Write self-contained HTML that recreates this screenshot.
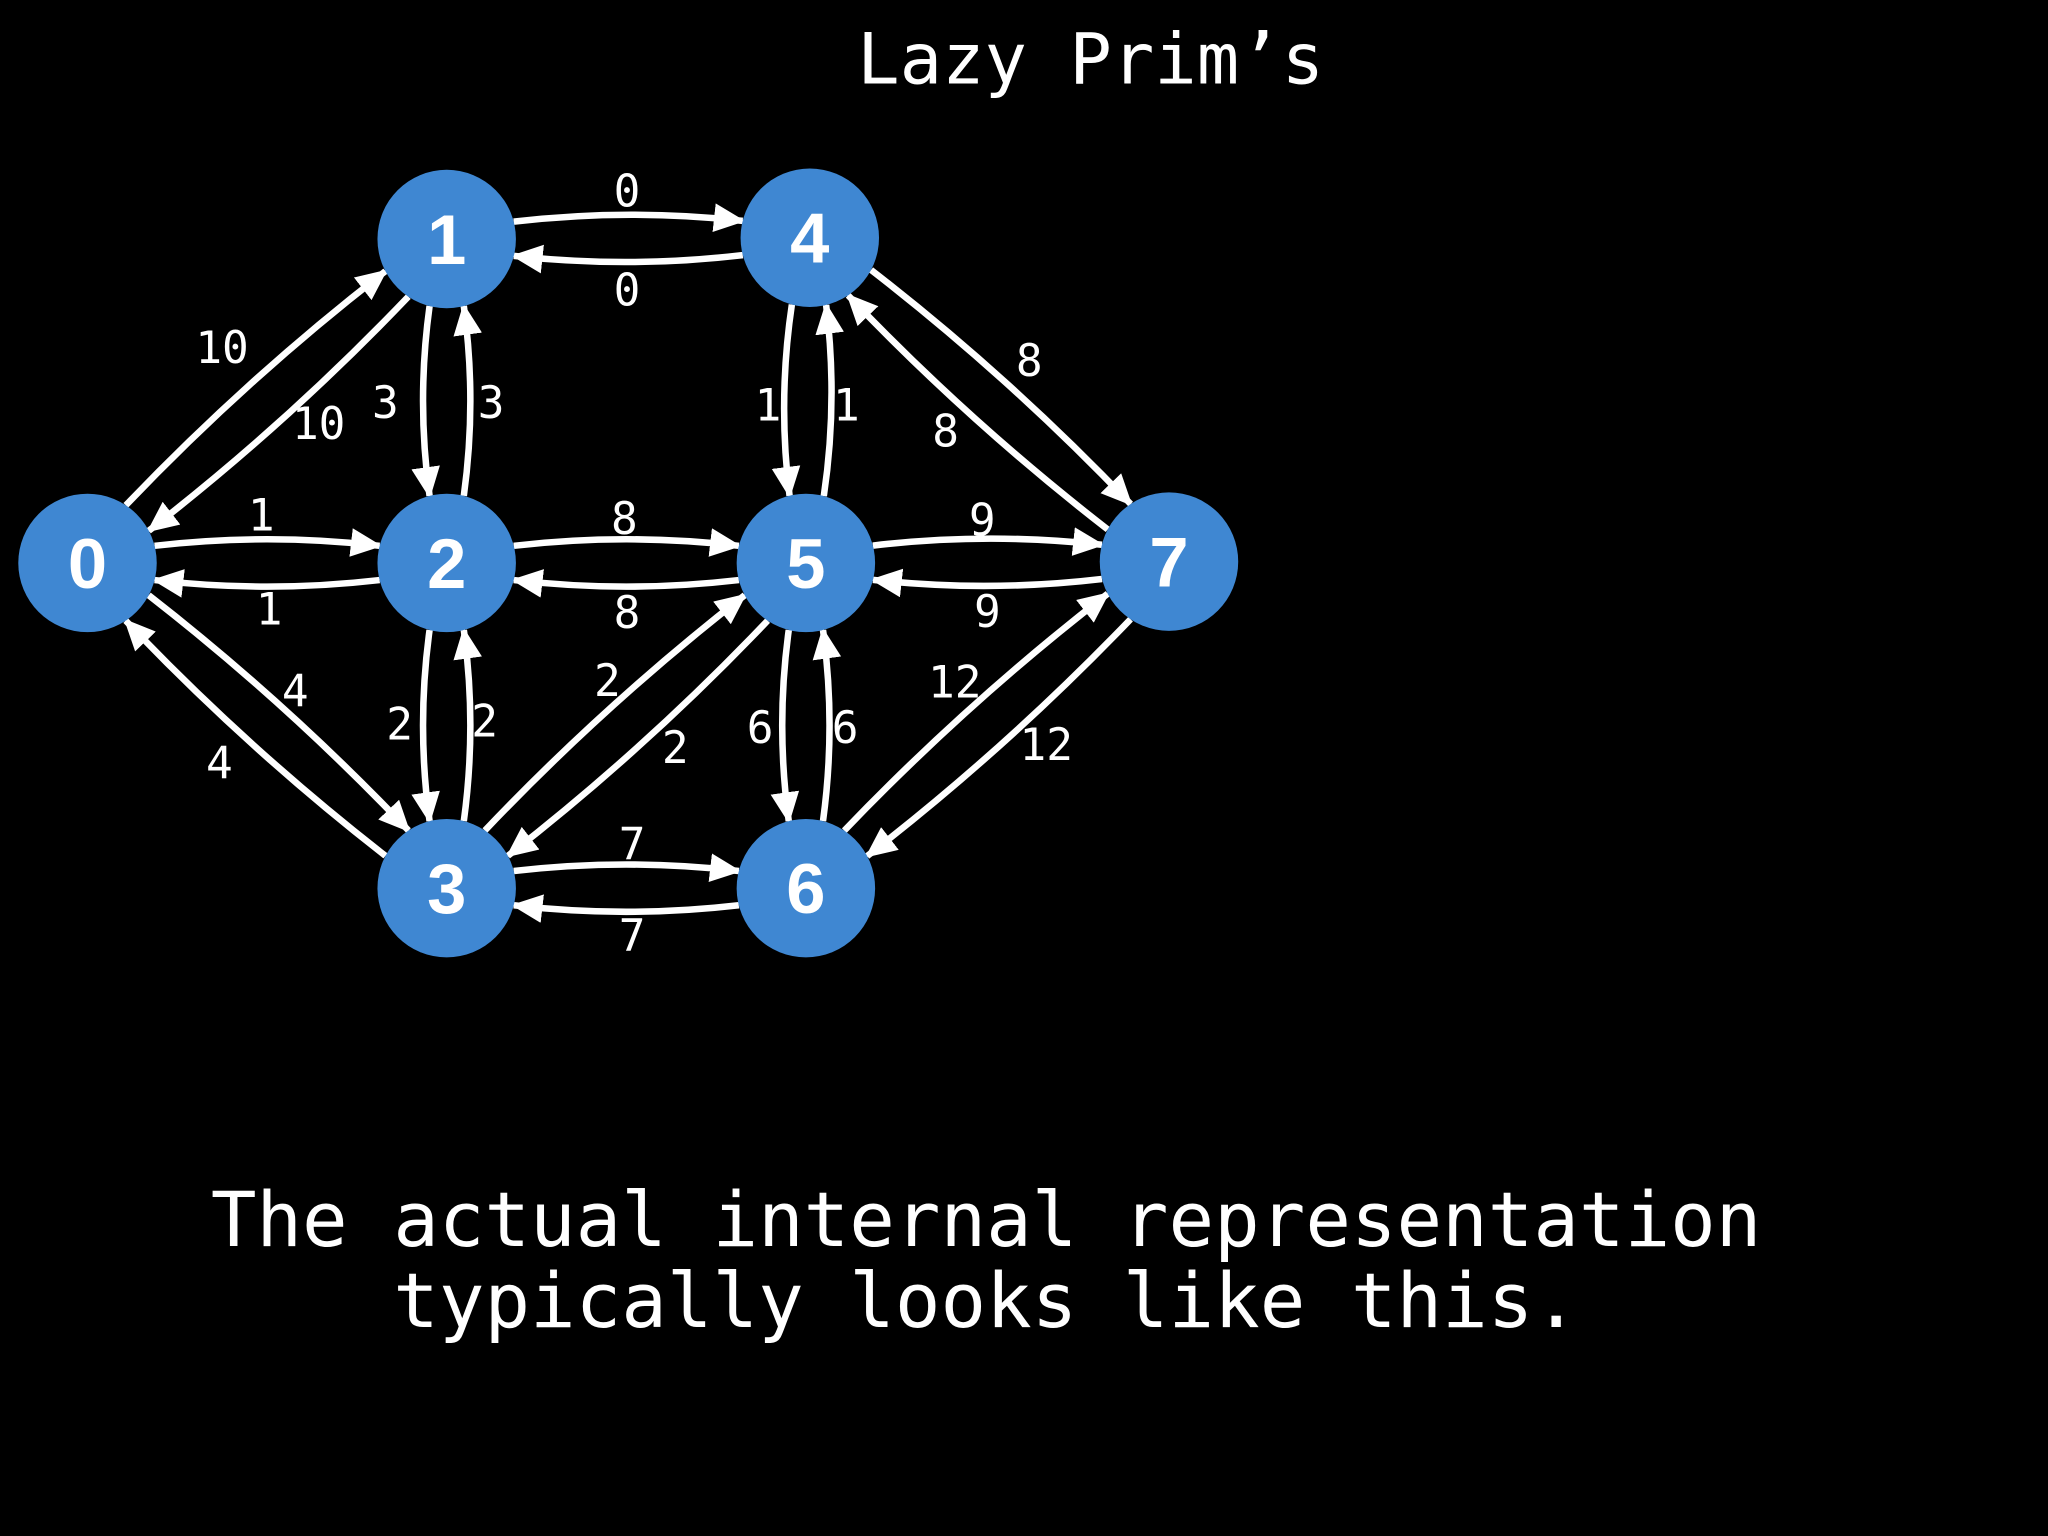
<!DOCTYPE html>
<html><head><meta charset="utf-8"><style>
html,body{margin:0;padding:0;background:#000;}
svg{display:block}
.m{font-family:"DejaVu Sans Mono","Liberation Mono",monospace;fill:#fff}
.n{font-family:"Liberation Sans",sans-serif;font-weight:bold;fill:#fff;font-size:54px}
</style></head><body>
<svg id="s" xmlns="http://www.w3.org/2000/svg" width="2048" height="1536" viewBox="0 0 1568 1176">
<rect width="1568" height="1176" fill="#000"/>
<defs>
<marker id="ar" markerUnits="userSpaceOnUse" markerWidth="26" markerHeight="24" refX="22" refY="11" orient="auto">
<path d="M0,0 L24,11 L0,22 Z" fill="#fff"/>
</marker>
</defs>
<text class="m" x="835" y="64" font-size="54" text-anchor="middle">Lazy Prim’s</text>
<g id="edges"></g>
<g id="nodes"></g>
<g class="m" font-size="34" text-anchor="middle">
<text x="480" y="158">0</text><text x="480" y="234">0</text>
<text x="170" y="278">10</text><text x="244" y="336">10</text>
<text x="295" y="320">3</text><text x="376" y="320">3</text>
<text x="588" y="322">1</text><text x="648" y="322">1</text>
<text x="788" y="288">8</text><text x="724" y="342">8</text>
<text x="200" y="406">1</text><text x="206" y="478">1</text>
<text x="478" y="409">8</text><text x="480" y="481">8</text>
<text x="752" y="410">9</text><text x="756" y="480">9</text>
<text x="226" y="541">4</text><text x="168" y="596">4</text>
<text x="306" y="566">2</text><text x="371" y="564">2</text>
<text x="465" y="533">2</text><text x="517" y="584">2</text>
<text x="582" y="569">6</text><text x="647" y="569">6</text>
<text x="731" y="534">12</text><text x="801" y="582">12</text>
<text x="484" y="658">7</text><text x="484" y="728">7</text>
</g>
<g class="m" font-size="58" text-anchor="middle">
<text x="755" y="954">The actual internal representation</text>
<text x="755" y="1016">typically looks like this.</text>
</g>
</svg>
<script>
var N={0:[67,431],1:[342,183],4:[620,182],2:[342,431],5:[617,431],7:[895,430],3:[342,680],6:[617,680]};
var R=53;
var E=[[1,4,1],[4,1,1],[0,1,1],[1,0,1],[0,2,1],[2,0,1],[0,3,1],[3,0,1],[1,2,-1],[2,1,-1],
[2,3,-1],[3,2,-1],[2,5,1],[5,2,1],[3,5,1],[5,3,1],[3,6,1],[6,3,1],[4,5,-1],[5,4,-1],
[5,6,-1],[6,5,-1],[4,7,1],[7,4,1],[5,7,1],[7,5,1],[6,7,1],[7,6,1]];
var ns="http://www.w3.org/2000/svg",g=document.getElementById('edges');
var a=0.25,h=10;
E.forEach(function(e){
 var A=N[e[0]],B=N[e[1]],dx=B[0]-A[0],dy=B[1]-A[1],L=Math.hypot(dx,dy);
 var ux=dx/L,uy=dy/L,px=e[2]*uy,py=-e[2]*ux;
 var c=Math.cos(a),s=Math.sin(a);
 var sx=A[0]+R*(ux*c+px*s),sy=A[1]+R*(uy*c+py*s);
 var ex=B[0]+R*(-ux*c+px*s),ey=B[1]+R*(-uy*c+py*s);
 var mx=(sx+ex)/2+px*h,my=(sy+ey)/2+py*h;
 var p=document.createElementNS(ns,'path');
 p.setAttribute('d','M'+sx+','+sy+' Q'+mx+','+my+' '+ex+','+ey);
 p.setAttribute('stroke','#fff');p.setAttribute('stroke-width','5');p.setAttribute('fill','none');
 p.setAttribute('marker-end','url(#ar)');
 g.appendChild(p);
});
var gn=document.getElementById('nodes');
for(var k in N){
 var c=document.createElementNS(ns,'circle');
 c.setAttribute('cx',N[k][0]);c.setAttribute('cy',N[k][1]);c.setAttribute('r',R);c.setAttribute('fill','#3f87d2');
 gn.appendChild(c);
 var t=document.createElementNS(ns,'text');
 t.setAttribute('x',N[k][0]);t.setAttribute('y',N[k][1]+19);t.setAttribute('text-anchor','middle');
 t.setAttribute('class','n');t.textContent=k;gn.appendChild(t);
}
</script>
</body></html>
